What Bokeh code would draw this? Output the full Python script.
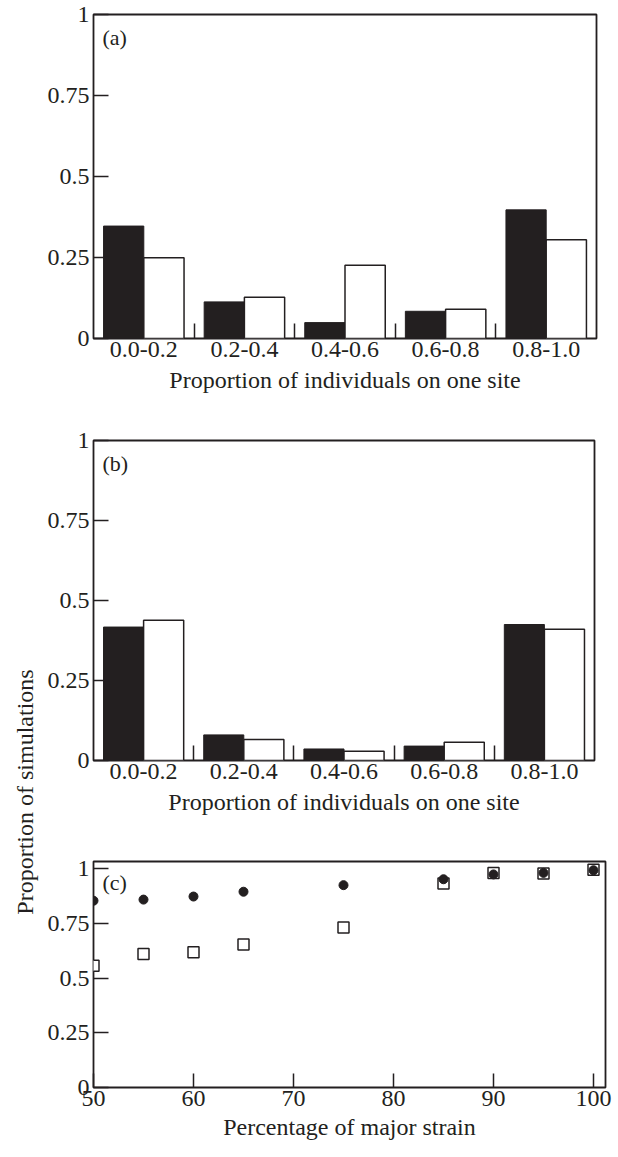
from bokeh.plotting import figure
from bokeh.models import Range1d, LinearAxis, FixedTicker, Label, Div
from bokeh.layouts import column, row
from bokeh.embed import file_html
from bokeh.resources import INLINE

# ---------------- data ----------------
categories = ["0.0-0.2", "0.2-0.4", "0.4-0.6", "0.6-0.8", "0.8-1.0"]
a_black = [0.347, 0.113, 0.049, 0.084, 0.397]
a_white = [0.249, 0.127, 0.226, 0.090, 0.305]
b_black = [0.417, 0.080, 0.036, 0.045, 0.425]
b_white = [0.438, 0.066, 0.029, 0.057, 0.410]

c_x = [50, 55, 60, 65, 75, 85, 90, 95, 100]
c_circle = [0.853, 0.858, 0.872, 0.894, 0.924, 0.951, 0.973, 0.980, 0.992]
c_square = [0.556, 0.610, 0.618, 0.653, 0.731, 0.932, 0.980, 0.977, 0.994]

y_ticks = [0, 0.25, 0.5, 0.75, 1]
y_tick_labels = ["0", "0.25", "0.5", "0.75", "1"]
c_x_ticks = [50, 60, 70, 80, 90, 100]

bar_xlabel = "Proportion of individuals on one site"
c_xlabel = "Percentage of major strain"
ylabel = "Proportion of simulations"

# ---------------- style ----------------
FONT = "Liberation Serif"
INK = "#231f20"
TICK_FS = "24px"
LABEL_FS = "24px"
TAG_FS = "22px"
LEFT_BORDER = 48
DIV_W = 34


def style_yaxis(p):
    yax = LinearAxis(ticker=FixedTicker(ticks=y_ticks),
                     major_label_overrides=dict(zip(y_ticks, y_tick_labels)))
    yax.axis_line_color = None
    yax.major_tick_in = 15
    yax.major_tick_out = 0
    yax.major_tick_line_color = INK
    yax.major_tick_line_width = 1.5
    yax.minor_tick_line_color = None
    yax.major_label_standoff = 4
    yax.major_label_text_font = FONT
    yax.major_label_text_font_size = TICK_FS
    yax.major_label_text_color = INK
    p.add_layout(yax, "left")


def style_xlabels(ax):
    ax.axis_line_color = None
    ax.major_tick_out = 0
    ax.major_label_standoff = 3
    ax.major_label_text_font = FONT
    ax.major_label_text_font_size = TICK_FS
    ax.major_label_text_color = INK
    ax.axis_label_standoff = 7
    ax.axis_label_text_font = FONT
    ax.axis_label_text_font_size = LABEL_FS
    ax.axis_label_text_font_style = "normal"
    ax.axis_label_text_color = INK


def base_fig(fw, fh, xr, yr, bt, bb):
    p = figure(frame_width=fw, frame_height=fh, x_range=xr, y_range=yr,
               output_backend="svg", toolbar_location=None,
               x_axis_location=None, y_axis_location=None,
               min_border_left=LEFT_BORDER, min_border_right=8,
               min_border_top=bt, min_border_bottom=bb)
    p.grid.visible = False
    p.outline_line_color = INK
    p.outline_line_width = 1.8
    p.background_fill_color = "white"
    p.border_fill_color = "white"
    return p


def bar_panel(black, white, tag, fw, fh, bt, bb):
    n = len(categories)
    p = base_fig(fw, fh, Range1d(0, n), Range1d(0, 1), bt, bb)
    style_yaxis(p)

    # category labels at centres (major, no marks); boundary marks as minor ticks
    centers = [i + 0.5 for i in range(n)]
    bounds = list(range(1, n))
    xax = LinearAxis(ticker=FixedTicker(ticks=centers, minor_ticks=bounds),
                     major_label_overrides=dict(zip(centers, categories)),
                     axis_label=bar_xlabel)
    style_xlabels(xax)
    xax.major_tick_in = 0
    xax.major_tick_line_color = None
    xax.minor_tick_in = 15
    xax.minor_tick_out = 0
    xax.minor_tick_line_color = INK
    xax.minor_tick_line_width = 1.5
    p.add_layout(xax, "below")

    idx = list(range(n))
    p.vbar(x=[i + 0.3 for i in idx], width=0.4, top=black, bottom=0,
           fill_color=INK, line_color=INK, line_width=1)
    p.vbar(x=[i + 0.7 for i in idx], width=0.4, top=white, bottom=0,
           fill_color="white", line_color=INK, line_width=1.5)

    p.add_layout(Label(x=0, y=1, x_offset=9, y_offset=-10, text=tag,
                       text_baseline="top", text_font=FONT,
                       text_font_size=TAG_FS, text_color=INK))
    return p


pa = bar_panel(a_black, a_white, "(a)", 503, 324, 14, 86)
pb = bar_panel(b_black, b_white, "(b)", 501, 320, 16, 82)

# ---------------- panel (c) ----------------
pc = base_fig(512, 226, Range1d(50, 101.2), Range1d(0, 1.032), 19, 54)
style_yaxis(pc)
cx_ax = LinearAxis(ticker=FixedTicker(ticks=c_x_ticks), axis_label=c_xlabel)
style_xlabels(cx_ax)
cx_ax.major_tick_in = 14
cx_ax.major_tick_line_color = INK
cx_ax.major_tick_line_width = 1.5
cx_ax.minor_tick_line_color = None
cx_ax.axis_label_standoff = 5
pc.add_layout(cx_ax, "below")

pc.scatter(c_x, c_square, marker="square", size=11, fill_color="white",
           line_color=INK, line_width=1.5)
pc.scatter(c_x, c_circle, marker="circle", size=9, fill_color=INK,
           line_color=INK, line_width=1)
pc.add_layout(Label(x=50, y=1.032, x_offset=9, y_offset=-8, text="(c)",
                    text_baseline="top", text_font=FONT,
                    text_font_size=TAG_FS, text_color=INK))

# ---------------- shared y label ----------------
total_h = 1141
ydiv = Div(
    text=('<div style="position:relative;width:%dpx;height:%dpx;">'
          '<span style="position:absolute;left:20px;top:787px;'
          'transform:translate(-50%%,-50%%) rotate(-90deg);white-space:nowrap;'
          'font-family:\'Liberation Serif\';font-size:24px;color:%s;">%s</span></div>')
    % (DIV_W, total_h, INK, ylabel),
    width=DIV_W, height=total_h)

layout = row(ydiv, column(pa, pb, pc))

open("out.html", "w").write(file_html(layout, INLINE))
